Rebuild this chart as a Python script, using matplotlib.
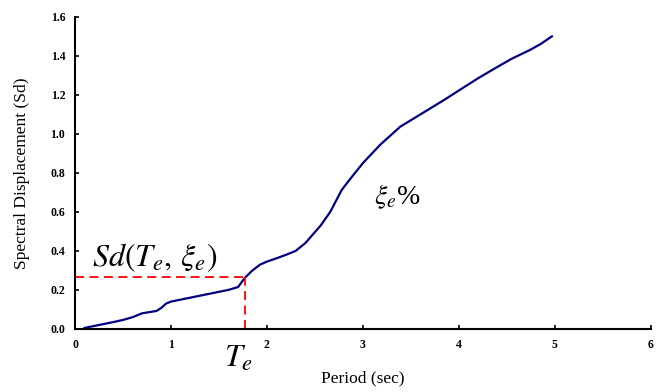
import matplotlib
matplotlib.use('Agg')
import matplotlib.pyplot as plt

plt.rcParams['mathtext.fontset'] = 'stix'

# spectral displacement curve
period = [0.10, 0.20, 0.30, 0.40, 0.50, 0.60, 0.70, 0.80, 0.85, 0.90, 0.95, 1.00,
          1.10, 1.20, 1.30, 1.40, 1.50, 1.60, 1.70, 1.77, 1.85, 1.93, 2.00, 2.10,
          2.20, 2.30, 2.40, 2.48, 2.56, 2.66, 2.78, 2.86, 3.00, 3.18, 3.39, 3.55,
          3.70, 3.85, 4.04, 4.20, 4.39, 4.55, 4.74, 4.85, 4.97]
sd = [0.005, 0.015, 0.025, 0.035, 0.046, 0.060, 0.080, 0.088, 0.092, 0.108, 0.130, 0.140,
      0.150, 0.160, 0.170, 0.180, 0.190, 0.200, 0.215, 0.262, 0.300, 0.330, 0.345, 0.362,
      0.380, 0.400, 0.440, 0.485, 0.530, 0.600, 0.713, 0.764, 0.850, 0.944, 1.037, 1.085,
      1.130, 1.175, 1.235, 1.285, 1.340, 1.385, 1.430, 1.460, 1.500]

te = 1.77
sd_te = 0.265

xticks = [0, 1, 2, 3, 4, 5, 6]
yticks = [0.0, 0.2, 0.4, 0.6, 0.8, 1.0, 1.2, 1.4, 1.6]

fig = plt.figure(figsize=(6.58, 3.92), dpi=100)
ax = fig.add_axes([0.114, 0.161, 0.875, 0.796])

ax.plot(period, sd, color='#000080', lw=1.6)
ax.plot([0, te], [sd_te, sd_te], color='red', lw=1.3, ls=(0, (5, 3)))
ax.plot([te, te], [0, sd_te], color='red', lw=1.3, ls=(0, (5, 3)))

ax.set_xlim(0, 6)
ax.set_ylim(0, 1.6)
ax.set_xticks(xticks)
ax.set_yticks(yticks)
ax.set_xticklabels([str(v) for v in xticks])
ax.set_yticklabels(['%.1f' % v for v in yticks])
for lab in ax.get_xticklabels() + ax.get_yticklabels():
    lab.set_family('Liberation Serif')
    lab.set_fontweight('bold')
    lab.set_fontsize(8.5)
ax.tick_params(direction='in', length=3, width=1.2, pad=7)
ax.spines['top'].set_visible(False)
ax.spines['right'].set_visible(False)
ax.spines['left'].set_linewidth(1.5)
ax.spines['bottom'].set_linewidth(1.5)

ax.set_xlabel('Period (sec)', family='Liberation Serif', fontsize=12.5, labelpad=14)
ax.set_ylabel('Spectral Displacement (Sd)', family='Liberation Serif', fontsize=12.5, labelpad=15)

ax.text(0.18, 0.32, r'$Sd(T_e,\,\xi_e)$', fontsize=23)
ax.text(te - 0.07, -0.07, r'$T_e$', fontsize=23, ha='center', va='top')
ax.text(3.12, 0.64, r'$\xi_e$%', fontsize=20, family='Liberation Serif')

fig.savefig('out.png', dpi=100)
